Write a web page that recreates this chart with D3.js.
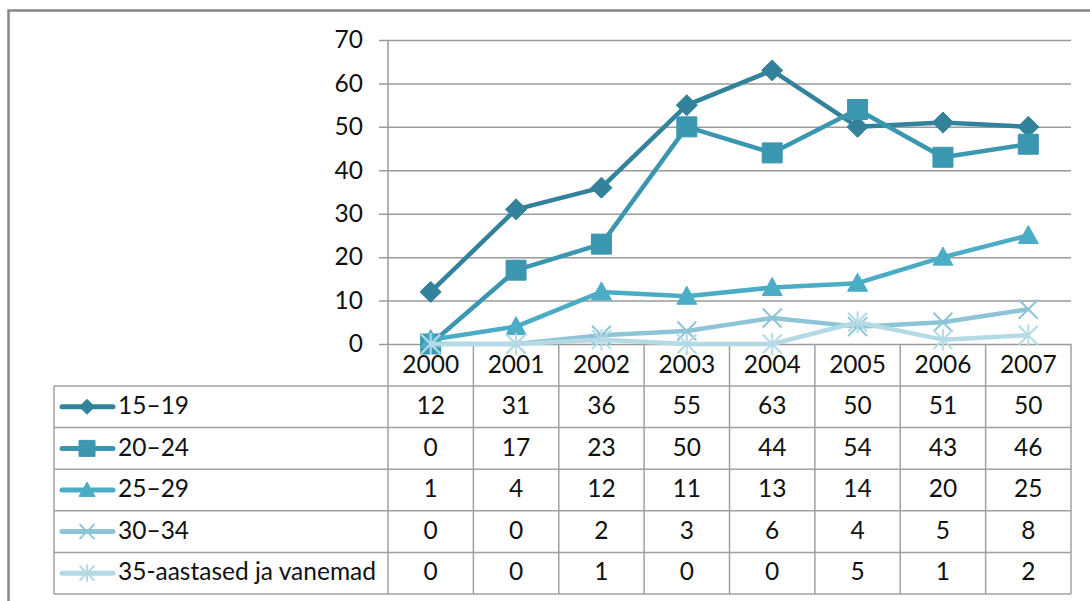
<!DOCTYPE html>
<html><head><meta charset="utf-8">
<script src="https://cdn.jsdelivr.net/npm/d3@7"></script>
<style>body{margin:0;background:#fff}svg{display:block}</style>
</head><body>
<script>
const years = ["2000","2001","2002","2003","2004","2005","2006","2007"];
const seriesNames = ["15–19","20–24","25–29","30–34","35-aastased ja vanemad"];
const s1519 = [12,31,36,55,63,50,51,50];
const s2024 = [0,17,23,50,44,54,43,46];
const s2529 = [1,4,12,11,13,14,20,25];
const s3034 = [0,0,2,3,6,4,5,8];
const s35 = [0,0,1,0,0,5,1,2];
const yTicks = [0,10,20,30,40,50,60,70];

const seriesValues = [s1519,s2024,s2529,s3034,s35];
const colors = ["#31829A","#3B97B0","#4BACC6","#8DC5D7","#B4DAE6"];
const markers = ["diamond","square","triangle","x","star"];

(function(){
const W=1090,H=601;
const svg=d3.select("body").append("svg").attr("width",W).attr("height",H);
const font="Lato, 'Open Sans', sans-serif", fs=24.5;

svg.append("rect").attr("x",8.5).attr("y",10.5).attr("width",W).attr("height",H)
  .attr("fill","none").attr("stroke","#868686").attr("stroke-width",2.5);

const pLeft=388,pRight=1071,pTop=40,pBottom=344;
const x=d3.scaleBand().domain(years).range([pLeft,pRight]).padding(0);
const y=d3.scaleLinear().domain([0,70]).range([pBottom,pTop]);
const cx=d=>x(d)+x.bandwidth()/2;

const yAxis=d3.axisLeft(y).tickValues(yTicks).tickSize(-(pRight-pLeft)).tickPadding(16).tickFormat(d3.format("d"));
const ga=svg.append("g").attr("transform",`translate(${pLeft},0)`).call(yAxis);
ga.select(".domain").remove();
ga.selectAll(".tick line").attr("stroke","#9a9a9a").attr("stroke-width",1.5).attr("x1",-9);
ga.selectAll(".tick text").attr("font-family",font).attr("font-size",fs).attr("fill","#111").attr("x",-25);
svg.append("line").attr("x1",pLeft).attr("x2",pLeft).attr("y1",pTop).attr("y2",pBottom)
  .attr("stroke","#9a9a9a").attr("stroke-width",1.5);

const rowH=41.6, headBottom=386;
const tb=svg.append("g");
const lineStyle=s=>s.attr("stroke","#a0a0a0").attr("stroke-width",1.5);
years.forEach((yr)=>{
  const xx=x(yr);
  lineStyle(tb.append("line").attr("x1",xx).attr("x2",xx).attr("y1",pBottom).attr("y2",headBottom+rowH*5));
});
lineStyle(tb.append("line").attr("x1",pRight).attr("x2",pRight).attr("y1",pBottom).attr("y2",headBottom+rowH*5));
lineStyle(tb.append("line").attr("x1",54).attr("x2",54).attr("y1",headBottom).attr("y2",headBottom+rowH*5));
for(let r=0;r<=5;r++){
  const yy=headBottom+r*rowH;
  lineStyle(tb.append("line").attr("x1",54).attr("x2",pRight).attr("y1",yy).attr("y2",yy));
}
tb.selectAll(".yr").data(years).enter().append("text")
  .attr("x",d=>cx(d)).attr("y",(pBottom+headBottom)/2+2).attr("text-anchor","middle")
  .attr("dominant-baseline","middle").attr("font-family",font).attr("font-size",fs).attr("fill","#111").text(d=>d);

function markerPath(type,size){
  const s=size/2;
  if(type==="diamond") return `M0,${-s}L${s},0L0,${s}L${-s},0Z`;
  if(type==="square") return `M${-s},${-s}H${s}V${s}H${-s}Z`;
  if(type==="triangle") return `M0,${-s}L${s},${s*0.8}L${-s},${s*0.8}Z`;
  if(type==="x") return `M${-s},${-s}L${s},${s}M${s},${-s}L${-s},${s}`;
  return `M${-s},${-s}L${s},${s}M${s},${-s}L${-s},${s}M0,${-s*1.15}V${s*1.15}`;
}
function drawMarker(g,type,color,px,py,size){
  const filled = type==="diamond"||type==="square"||type==="triangle";
  g.append("path").attr("d",markerPath(type,size)).attr("transform",`translate(${px},${py})`)
    .attr("fill",filled?color:"none").attr("stroke",color).attr("stroke-width",filled?1:2);
}

seriesNames.forEach((name,i)=>{
  const cy=headBottom+(i+0.5)*rowH;
  const g=svg.append("g");
  g.append("line").attr("x1",62).attr("x2",113).attr("y1",cy).attr("y2",cy)
    .attr("stroke",colors[i]).attr("stroke-width",5).attr("stroke-linecap","round");
  drawMarker(g,markers[i],colors[i],87,cy,markers[i]==="triangle"?16:markers[i]==="square"?16:15);
  g.append("text").attr("x",118).attr("y",cy+1).attr("dominant-baseline","middle")
    .attr("font-family",font).attr("font-size",fs).attr("fill","#111").text(name);
  g.selectAll(".v").data(seriesValues[i]).enter().append("text")
    .attr("x",(d,j)=>cx(years[j])).attr("y",cy+1).attr("text-anchor","middle").attr("dominant-baseline","middle")
    .attr("font-family",font).attr("font-size",fs).attr("fill","#111").text(d=>d);
});

const line=d3.line().x((d,j)=>cx(years[j])).y(d=>y(d));
seriesValues.forEach((vals,i)=>{
  const g=svg.append("g");
  g.append("path").datum(vals).attr("d",line).attr("fill","none").attr("stroke",colors[i])
    .attr("stroke-width",4.5).attr("stroke-linejoin","round");
  vals.forEach((v,j)=>drawMarker(g,markers[i],colors[i],cx(years[j]),y(v),
    markers[i]==="diamond"?21:markers[i]==="square"?20:markers[i]==="triangle"?20:19));
});
})();
</script>
</body></html>
